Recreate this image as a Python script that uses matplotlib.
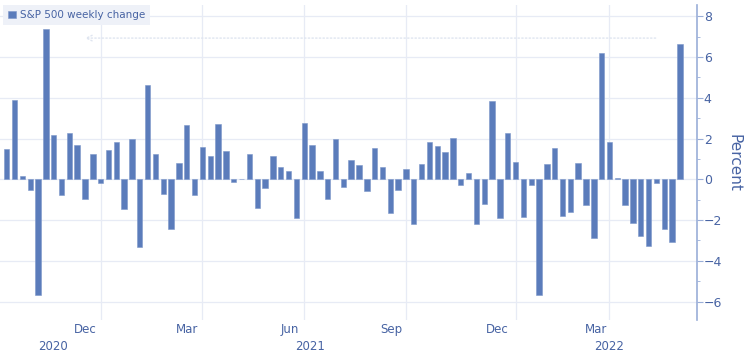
import numpy as np
import pandas as pd
import matplotlib as mpl
mpl.use("Agg")
import matplotlib.pyplot as plt
import matplotlib.transforms as mtransforms

# weekly S&P 500 change, weeks ending on Fridays
weeks = pd.date_range("2020-10-02", periods=87, freq="W-FRI")
change = [
    1.51, 3.87, 0.18, -0.54, -5.67, 7.35, 2.15, -0.77, 2.27, 1.66,
    -0.97, 1.25, -0.16, 1.43, 1.81, -1.48, 1.96, -3.34, 4.65, 1.25,
    -0.72, -2.45, 0.82, 2.65, -0.77, 1.58, 1.15, 2.70, 1.37, -0.12,
    0.03, 1.25, -1.40, -0.41, 1.15, 0.61, 0.43, -1.91, 2.76, 1.66,
    0.39, -0.95, 1.97, -0.38, 0.94, 0.69, -0.59, 1.53, 0.58, -1.66,
    -0.54, 0.51, -2.19, 0.77, 1.83, 1.64, 1.33, 2.02, -0.28, 0.33,
    -2.19, -1.22, 3.85, -1.92, 2.29, 0.86, -1.86, -0.30, -5.69, 0.76,
    1.56, -1.81, -1.58, 0.82, -1.25, -2.88, 6.18, 1.81, 0.07, -1.25,
    -2.14, -2.76, -3.27, -0.20, -2.43, -3.06, 6.64,
]

# vertical grid at last weekly point of each quarter
grid_dates = pd.to_datetime(["2020-12-25", "2021-03-26", "2021-06-25",
                             "2021-09-24", "2021-12-31", "2022-03-25"])
month_dates = pd.to_datetime(["2020-12-11", "2021-03-12", "2021-06-12",
                              "2021-09-11", "2021-12-15", "2022-03-13"])
month_labels = ["Dec", "Mar", "Jun", "Sep", "Dec", "Mar"]
year_dates = pd.to_datetime(["2020-11-12", "2021-06-30", "2022-03-25"])
year_labels = ["2020", "2021", "2022"]

bar_col = "#5b7cbb"
txt_col = "#4763a3"
axis_col = "#9aaed8"
grid_col = "#e7ebf5"

fig = plt.figure(figsize=(7.52, 3.53), dpi=100)
ax = fig.add_axes([0.0, 0.0935, 0.9265, 0.8923])

ax.bar(weeks, change, width=4.8, color=bar_col, edgecolor="#7d97c9",
       linewidth=0.4, zorder=3, label="S&P 500 weekly change")

ax.set_xlim(pd.Timestamp("2020-09-26"), pd.Timestamp("2022-06-11"))
ax.set_ylim(-6.9, 8.55)

# y axis on the right
ax.yaxis.tick_right()
ax.yaxis.set_label_position("right")
ax.set_yticks(np.arange(-6, 9, 2))
ax.set_yticks(np.arange(-5, 9, 2), minor=True)
ax.tick_params(axis="y", which="major", direction="out", length=4,
               color=axis_col, labelcolor=txt_col, labelsize=9, pad=1)
ax.tick_params(axis="y", which="minor", direction="out", length=2.5,
               color=axis_col)
ax.set_ylabel("Percent", color=txt_col, fontsize=11, rotation=-90,
              labelpad=14)
for s in ["top", "left", "bottom"]:
    ax.spines[s].set_visible(False)
ax.spines["right"].set_color(axis_col)
ax.spines["right"].set_linewidth(1.2)

# x axis: grid at quarter ends, labels placed separately
ax.set_xticks(grid_dates, minor=True)
ax.set_xticks(month_dates)
ax.set_xticklabels(month_labels)
ax.tick_params(axis="x", which="both", length=0, labelcolor=txt_col,
               labelsize=8.5, pad=2)
ax.grid(True, axis="y", which="major", color=grid_col, lw=0.9, zorder=0)
ax.grid(True, axis="x", which="minor", color=grid_col, lw=0.9, zorder=0)
ax.grid(False, axis="x", which="major")

trans = mtransforms.blended_transform_factory(ax.transData, ax.transAxes)
for d, lab in zip(year_dates, year_labels):
    ax.text(d, -0.062, lab, transform=trans, ha="center", va="top",
            color=txt_col, fontsize=8.5)

# faint range indicator
ax.annotate("", xy=(0.118, 0.895), xytext=(0.945, 0.895),
            xycoords="axes fraction",
            arrowprops=dict(arrowstyle="->", color="#dfe5f0", lw=1,
                            linestyle=":"))

leg = ax.legend(loc="upper left", bbox_to_anchor=(0.004, 1.0),
                borderaxespad=0, frameon=True, fontsize=7.5,
                handlelength=0.75, handleheight=0.75, handletextpad=0.4,
                borderpad=0.5, labelcolor=txt_col)
leg.get_frame().set_facecolor("#eef1f8")
leg.get_frame().set_edgecolor("none")
leg.get_frame().set_alpha(1)
leg.get_frame().set_boxstyle("square", pad=0)

plt.savefig("out.png", dpi=100)
